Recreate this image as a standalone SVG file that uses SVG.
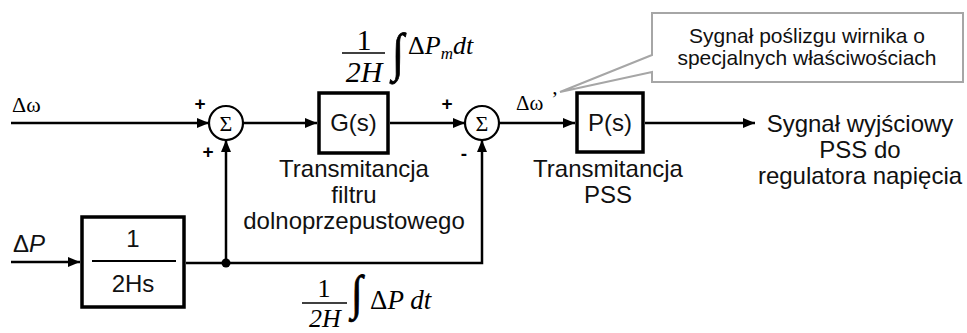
<svg xmlns="http://www.w3.org/2000/svg" width="967" height="333" viewBox="0 0 967 333">
<style>
.ln{fill:none;stroke:#000;stroke-width:2.5}
.bx{fill:#fff;stroke:#000;stroke-width:3.5}
.sum{fill:#fff;stroke:#000;stroke-width:2.2}
.sans{font-family:"Liberation Sans",Arial,sans-serif;fill:#111}
.lbl{font-size:24px;text-anchor:middle}
.serif{font-family:"Liberation Serif","Times New Roman",serif;fill:#000}
.sg{font-family:"Liberation Sans",Arial,sans-serif;font-size:19px;font-weight:bold;text-anchor:middle;fill:#000}
.int{stroke:#000;stroke-width:0.7}
</style>
<defs>
<marker id="ah" viewBox="0 0 12 10" refX="12" refY="5" markerWidth="12" markerHeight="10" orient="auto" markerUnits="userSpaceOnUse"><path d="M0,0 L12,5 L0,10 z" fill="#000"/></marker>
</defs>
<rect width="967" height="333" fill="#fff"/>

<g id="connectors">
<line class="ln" x1="11" y1="123" x2="209" y2="123" marker-end="url(#ah)"/>
<line class="ln" x1="243" y1="123" x2="317" y2="123" marker-end="url(#ah)"/>
<line class="ln" x1="390" y1="123" x2="465" y2="123" marker-end="url(#ah)"/>
<line class="ln" x1="499" y1="123" x2="575" y2="123" marker-end="url(#ah)"/>
<line class="ln" x1="645" y1="123" x2="755" y2="123" marker-end="url(#ah)"/>
<line class="ln" x1="11" y1="262" x2="80" y2="262" marker-end="url(#ah)"/>
<polyline class="ln" points="186,263 482,263 482,140" marker-end="url(#ah)"/>
<line class="ln" x1="226" y1="263" x2="226" y2="140" marker-end="url(#ah)"/>
<circle cx="226" cy="263" r="4.5" fill="#000"/>
</g>

<g id="sum1">
<circle class="sum" cx="226" cy="123" r="17"/>
<text class="serif" x="226" y="131" font-size="22" text-anchor="middle">Σ</text>
<text class="sg" x="200" y="110">+</text>
<text class="sg" x="208" y="158">+</text>
</g>

<g id="sum2">
<circle class="sum" cx="482" cy="123" r="17"/>
<text class="serif" x="482" y="131" font-size="22" text-anchor="middle">Σ</text>
<text class="sg" x="447" y="110">+</text>
<text class="sg" x="464" y="160">-</text>
</g>

<g id="G">
<rect class="bx" x="319" y="93" width="69" height="60"/>
<text class="sans lbl" x="353.5" y="131">G(s)</text>
<text class="sans lbl" x="354" y="177">Transmitancja</text>
<text class="sans lbl" x="354" y="203">filtru</text>
<text class="sans lbl" x="354" y="229">dolnoprzepustowego</text>
</g>

<g id="P">
<rect class="bx" x="577" y="93" width="66" height="59"/>
<text class="sans lbl" x="610" y="131">P(s)</text>
<text class="sans lbl" x="608" y="177">Transmitancja</text>
<text class="sans lbl" x="608" y="203">PSS</text>
</g>

<g id="integrator">
<rect class="bx" x="82" y="217" width="102" height="90"/>
<text class="sans lbl" x="133" y="247">1</text>
<line x1="92" y1="261" x2="176" y2="261" stroke="#000" stroke-width="2"/>
<text class="sans lbl" x="133" y="292">2Hs</text>
</g>

<g id="output">
<text class="sans lbl" x="860" y="132">Sygnał wyjściowy</text>
<text class="sans lbl" x="860" y="158">PSS do</text>
<text class="sans lbl" x="860" y="184">regulatora napięcia</text>
</g>

<g id="labels">
<text class="serif" x="12" y="112" font-size="22">Δω</text>
<text class="serif" x="516" y="110" font-size="21">Δω<tspan dx="8" dy="-4">’</tspan></text>
<text class="sans" x="13" y="252" font-size="24">Δ<tspan font-style="italic">P</tspan></text>
</g>

<g id="formula-top" class="serif" font-style="italic">
<text x="364" y="50" font-size="30" font-style="normal" text-anchor="middle">1</text>
<line x1="342" y1="53" x2="385" y2="53" stroke="#000" stroke-width="1.6"/>
<text x="364" y="82" font-size="30" text-anchor="middle">2H</text>
<text class="int" x="398" y="70" font-size="44" font-style="normal" text-anchor="middle" transform="translate(398,70) scale(1,1.2) translate(-398,-70)">∫</text>
<text x="408" y="54" font-size="26"><tspan font-style="normal">Δ</tspan>P<tspan font-size="17" dy="5">m</tspan><tspan dy="-5">dt</tspan></text>
</g>

<g id="formula-bottom" class="serif" font-style="italic">
<text x="324" y="297" font-size="26" font-style="normal" text-anchor="middle">1</text>
<line x1="302" y1="303" x2="347" y2="303" stroke="#000" stroke-width="1.6"/>
<text x="325" y="327" font-size="26" text-anchor="middle">2H</text>
<text class="int" x="357" y="309" font-size="42" font-style="normal" text-anchor="middle" transform="translate(357,309) scale(1,1.15) translate(-357,-309)">∫</text>
<text x="370" y="309" font-size="27"><tspan font-style="normal">Δ</tspan>P dt</text>
</g>

<g id="callout">
<path d="M652,13 H963 V82 H652 V72 L560,92 L652,55 Z" fill="#fff" stroke="#a6a6a6" stroke-width="2"/>
<text class="sans" x="807" y="43" font-size="21" text-anchor="middle">Sygnał poślizgu wirnika o</text>
<text class="sans" x="807" y="65" font-size="21" text-anchor="middle">specjalnych właściwościach</text>
</g>
</svg>
